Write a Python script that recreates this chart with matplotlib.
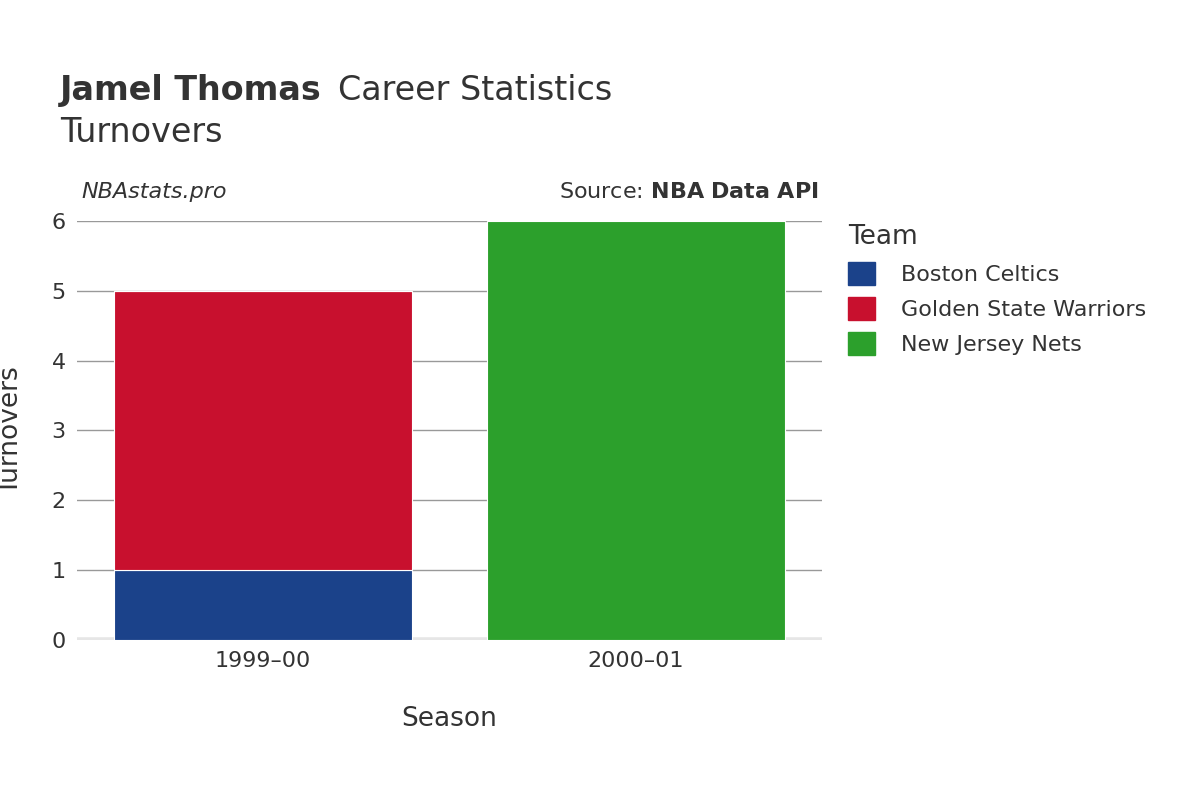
import matplotlib
matplotlib.use("Agg")
import matplotlib.pyplot as plt
from matplotlib.patches import Patch

seasons = ["1999\u201300", "2000\u201301"]
teams = ["Boston Celtics", "Golden State Warriors", "New Jersey Nets"]
colors = ["#1b428a", "#c8102e", "#2ca02c"]
values = {
    "Boston Celtics": [1, 0],
    "Golden State Warriors": [4, 0],
    "New Jersey Nets": [0, 6],
}
yticks = [0, 1, 2, 3, 4, 5, 6]

fig = plt.figure(figsize=(12, 8), dpi=100)
ax = fig.add_axes([0.064, 0.2, 0.621, 0.524])
x = list(range(len(seasons)))
bottom = [0] * len(seasons)
for t, c in zip(teams, colors):
    v = values[t]
    ax.bar(x, v, width=0.8, bottom=bottom, color=c, edgecolor="white", linewidth=0.8, zorder=3)
    bottom = [b + vv for b, vv in zip(bottom, v)]

ax.set_xlim(-0.5, 1.5)
ax.set_ylim(0, 6)
ax.set_yticks(yticks)
ax.set_xticks(x)
ax.set_xticklabels(seasons)
ax.grid(axis="y", color="#999999", linewidth=1, zorder=0)
ax.axhline(0, color="#e6e6e6", linewidth=4, zorder=2)
for s in ax.spines.values():
    s.set_visible(False)
ax.tick_params(length=0, labelsize=16, colors="#333333", pad=8)
ax.set_xlabel("Season", fontsize=19, color="#333333", labelpad=25)
ax.set_ylabel("Turnovers", fontsize=19, color="#333333", labelpad=20)

fig.text(0.05, 0.875, "Jamel Thomas", fontsize=24, fontweight="bold", color="#333333", va="baseline")
fig.text(0.05 + 0.232, 0.875, "Career Statistics", fontsize=24, color="#333333", va="baseline")
fig.text(0.05, 0.822, "Turnovers", fontsize=24, color="#333333", va="baseline")
fig.text(0.068, 0.753, "NBAstats.pro", fontsize=16, style="italic", color="#333333", va="baseline")
fig.text(0.682, 0.753, "Source: $\\bf{NBA\\ Data\\ API}$", fontsize=16, color="#333333", va="baseline", ha="right")

handles = [Patch(facecolor=c, edgecolor=c) for c in colors]
leg = fig.legend(handles, teams, loc="upper left", bbox_to_anchor=(0.69, 0.745), frameon=False,
                 fontsize=16, title="Team", title_fontsize=19, handlelength=1.2, handleheight=1.2,
                 labelspacing=0.55, handletextpad=1.2, alignment="left")
for txt in leg.get_texts():
    txt.set_color("#333333")
leg.get_title().set_color("#333333")

fig.savefig("out.png", dpi=100)
